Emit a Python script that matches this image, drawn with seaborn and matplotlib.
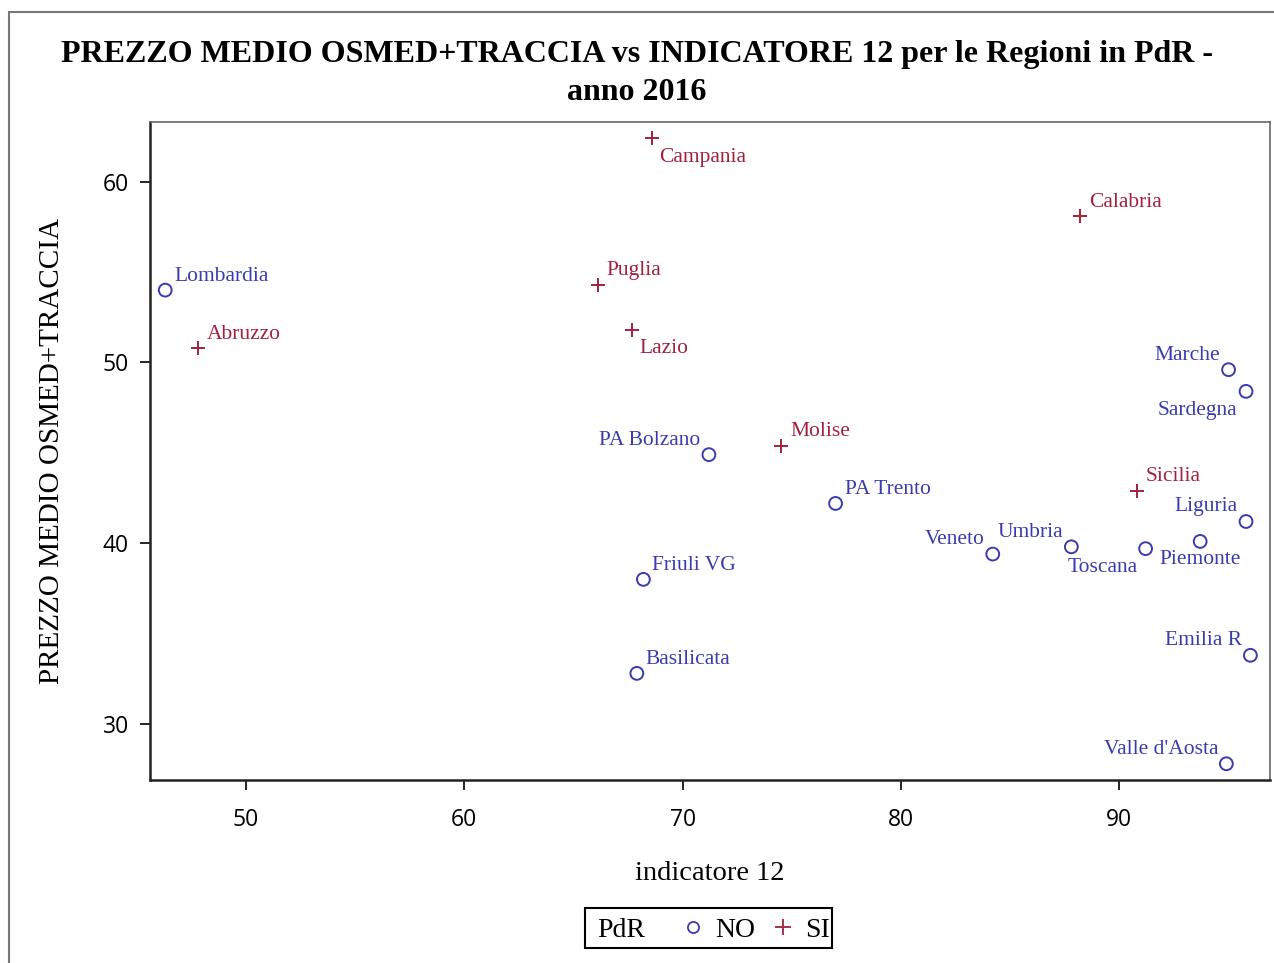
import numpy as np
import matplotlib
matplotlib.use("Agg")
import matplotlib.pyplot as plt
import pandas as pd
import seaborn as sns
from matplotlib.lines import Line2D
from matplotlib.patches import Rectangle

regioni = ["Lombardia", "Abruzzo", "Campania", "Puglia", "Lazio", "Calabria",
           "PA Bolzano", "Molise", "PA Trento", "Friuli VG", "Basilicata",
           "Veneto", "Umbria", "Toscana", "Piemonte", "Sicilia", "Liguria",
           "Marche", "Sardegna", "Emilia R", "Valle d'Aosta"]
indicatore12 = [46.3, 47.8, 68.6, 66.1, 67.7, 88.2,
                71.2, 74.5, 77.0, 68.2, 67.9,
                84.2, 87.8, 91.2, 93.7, 90.8, 95.8,
                95.0, 95.8, 96.0, 94.9]
prezzo = [54.0, 50.8, 62.4, 54.3, 51.8, 58.1,
          44.9, 45.4, 42.2, 38.0, 32.8,
          39.4, 39.8, 39.7, 40.1, 42.9, 41.2,
          49.6, 48.4, 33.8, 27.8]
pdr = ["NO", "SI", "SI", "SI", "SI", "SI",
       "NO", "SI", "NO", "NO", "NO",
       "NO", "NO", "NO", "NO", "SI", "NO",
       "NO", "NO", "NO", "NO"]
# posizione etichetta: ur, ul, lr, ll, lc
pos_etichetta = ["ur", "ur", "lr", "ur", "lr", "ur",
                 "ul", "ur", "ur", "ur", "ur",
                 "ul", "ul", "ll", "lc", "ur", "ul",
                 "ul", "ll", "ul", "ul"]

df = pd.DataFrame({"regione": regioni, "ind12": indicatore12,
                   "prezzo": prezzo, "PdR": pdr, "pos": pos_etichetta})

BLU = "#3b3bb0"
ROSSO = "#a3203f"
SERIF = ["Liberation Serif", "DejaVu Serif"]

sns.set_style("white")
plt.rcParams["font.family"] = SERIF
plt.rcParams["text.color"] = "black"
plt.rcParams["axes.labelcolor"] = "black"

fig = plt.figure(figsize=(12.74, 9.63), dpi=100)
ax = fig.add_axes([0.1177, 0.19, 0.8792, 0.6833])

no = df[df.PdR == "NO"]
si = df[df.PdR == "SI"]
sns.scatterplot(data=no, x="ind12", y="prezzo", ax=ax, marker="o", s=85,
                facecolors="none", edgecolor=BLU, linewidth=1.4, legend=False)
sns.scatterplot(data=si, x="ind12", y="prezzo", ax=ax, marker="+", s=95,
                color=ROSSO, linewidth=1.4, legend=False)

offs = {"ur": (6.5, 10, "left"), "ul": (-6, 10.5, "right"),
        "lr": (5, -13.5, "left"), "ll": (-6, -13.5, "right"),
        "lc": (0, -13, "center")}
for _, r in df.iterrows():
    dx, dy, ha = offs[r.pos]
    ax.annotate(r.regione, (r.ind12, r.prezzo), xytext=(dx, dy),
                textcoords="offset points", ha=ha, va="center", fontsize=15.5,
                color=BLU if r.PdR == "NO" else ROSSO)

ax.set_xlim(45.6, 96.9)
ax.set_ylim(26.9, 63.3)
ax.set_xticks([50, 60, 70, 80, 90])
ax.set_yticks([30, 40, 50, 60])
ax.tick_params(direction="out", length=7, width=1.2, colors="black",
               labelsize=16.5, bottom=True, left=True)
ax.tick_params(axis="x", pad=13)
ax.tick_params(axis="y", pad=8)
for lab in ax.get_xticklabels() + ax.get_yticklabels():
    lab.set_family(["Open Sans", "DejaVu Sans"])
for s in ["left", "bottom"]:
    ax.spines[s].set_color("#222222")
    ax.spines[s].set_linewidth(1.8)
for s in ["top", "right"]:
    ax.spines[s].set_color("#666666")
    ax.spines[s].set_linewidth(1.2)

ax.set_xlabel("indicatore 12", fontsize=20.5, labelpad=21)
ax.set_ylabel("PREZZO MEDIO OSMED+TRACCIA", fontsize=21, labelpad=27)
fig.suptitle("PREZZO MEDIO OSMED+TRACCIA vs INDICATORE 12 per le Regioni in PdR -\nanno 2016",
             fontsize=23, fontweight="bold", y=0.958, linespacing=1.4)

# legenda: riquadro con "PdR" a sinistra
fig.text(0.4686, 0.034, "PdR", fontsize=20, ha="left", va="center")
handles = [Line2D([], [], linestyle="none", marker="o", markerfacecolor="none",
                  markeredgecolor=BLU, markersize=8, markeredgewidth=1.3),
           Line2D([], [], linestyle="none", marker="+", color=ROSSO,
                  markersize=11, markeredgewidth=1.3)]
fig.legend(handles, ["NO", "SI"], ncol=2, loc="center",
           bbox_to_anchor=(0.593, 0.034), fontsize=20, frameon=False,
           handlelength=0.8, handletextpad=0.4, columnspacing=0.6)
fig.patches.append(Rectangle((585 / 1274, 15 / 963), 247 / 1274, 40 / 963,
                             transform=fig.transFigure, fill=False,
                             edgecolor="black", linewidth=1.5))

fig.patches.append(Rectangle((0.007, -0.05), 1.1, 1.0375, transform=fig.transFigure,
                             fill=False, edgecolor="#777777", linewidth=1.5))

fig.savefig("out.png", dpi=100)
